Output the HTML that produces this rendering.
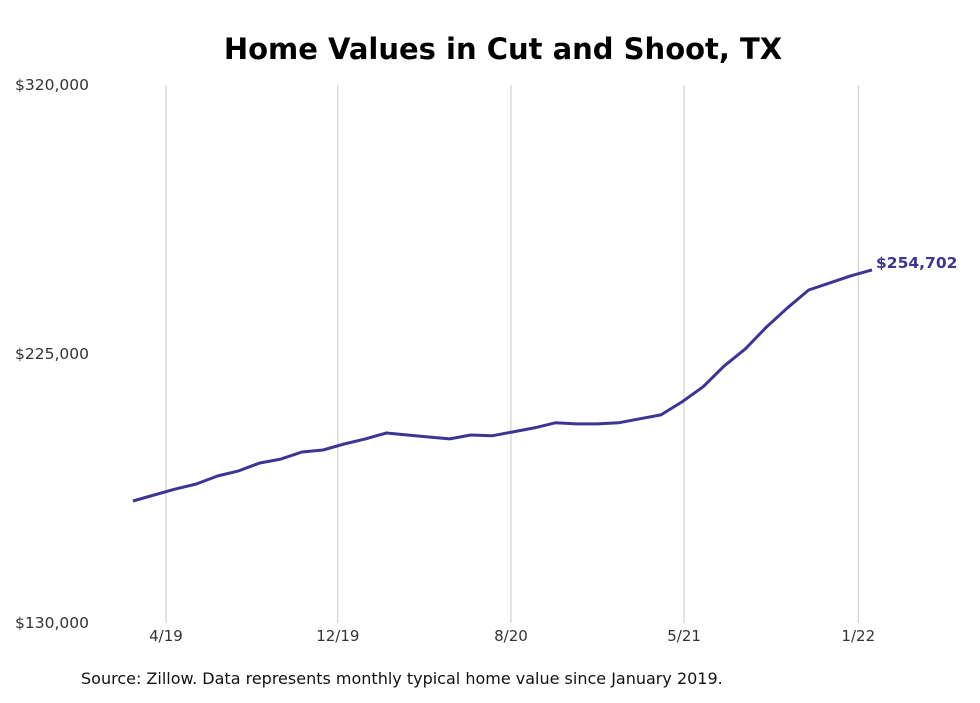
<!DOCTYPE html>
<html><head><meta charset="utf-8"><style>
body{margin:0;background:#fff;font-family:"DejaVu Sans","Liberation Sans",sans-serif;}
</style></head><body>
<svg width="980" height="699" xmlns="http://www.w3.org/2000/svg">
<text x="503" y="59" text-anchor="middle" font-size="29" font-weight="bold" fill="#000">Home Values in Cut and Shoot, TX</text>
<g id="grid"></g>
<g id="yaxis"></g>
<g id="xaxis"></g>
<path id="line" fill="none" stroke="#3d3596" stroke-width="3" stroke-linejoin="round"/>
<text id="endlabel" font-size="15.5" font-weight="bold" fill="#3d3596"></text>
<text x="81" y="684" font-size="16" fill="#111">Source: Zillow. Data represents monthly typical home value since January 2019.</text>
</svg>
<script>
const values=[173100,175200,177300,179100,181900,183700,186500,187900,190400,191100,193200,195000,197100,196400,195700,195000,196400,196100,197500,198900,200700,200300,200300,200700,202100,203500,208100,213400,220800,226800,234500,241300,247600,250100,252600,254702];
const tickLabels=["4/19","12/19","8/20","5/21","1/22"];
const tickIndex=[1.56,9.7,17.9,26.1,34.35];
const yTicks=[130000,225000,320000];
const yTickLabels=["$130,000","$225,000","$320,000"];
const endLabel="$254,702";
const ns="http://www.w3.org/2000/svg";
const x=i=>133+i*(872-133)/(values.length-1);
const y=v=>623-(v-130000)*(623-85)/(320000-130000);
function mk(tag,attrs,parent,txt){const e=document.createElementNS(ns,tag);for(const k in attrs)e.setAttribute(k,attrs[k]);if(txt!=null)e.textContent=txt;document.getElementById(parent).appendChild(e);return e;}
tickIndex.forEach((t,k)=>{
 const g=mk('line',{x1:x(t),x2:x(t),y1:85,y2:623,stroke:'#c8c8c8','stroke-width':1},'grid');
 
 
 const tl=mk('text',{x:x(t),y:641,'text-anchor':'middle','font-size':15,fill:'#333'},'xaxis',tickLabels[k]);
 
 
});
yTicks.forEach((v,k)=>{
 const tl=mk('text',{x:15,y:y(v)+5,'font-size':15.5,fill:'#333'},'yaxis',yTickLabels[k]);
 
 
});
document.getElementById('line').setAttribute('d',values.map((v,i)=>(i?'L':'M')+x(i).toFixed(1)+','+y(v).toFixed(1)).join(''));
const el=document.getElementById('endlabel');
const li=values.length-1;
el.setAttribute('x',x(li)+4);el.setAttribute('y',y(values[li])-2);el.textContent=endLabel;
</script>
</body></html>
